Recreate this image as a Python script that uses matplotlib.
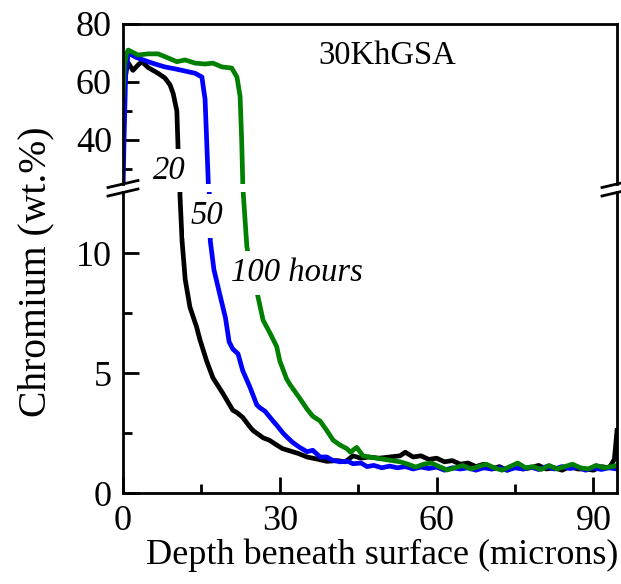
import matplotlib
matplotlib.use("Agg")
import matplotlib.pyplot as plt
import numpy as np
from matplotlib.lines import Line2D

plt.rcParams["font.family"] = ["Liberation Serif", "DejaVu Serif"]
plt.rcParams["font.size"] = 26

# depth (microns) and chromium (wt.%)
x_20h = [0.3, 0.6, 1.0, 1.9, 2.9, 3.6, 4.8, 6.7, 8.0, 9.0, 9.6, 10.3, 10.5, 10.7,
         10.9, 11.3, 11.9, 12.8, 14.1, 14.7, 16.0, 17.2, 19.1, 21.0, 21.8, 22.9,
         24.3, 24.9, 26.8, 28.0, 29.4, 30.5, 32.0, 33.5, 35.2, 37.0, 39.0, 41.0,
         42.5, 44.0, 45.5, 47.0, 49.0, 51.0, 53.0, 54.0, 55.5, 57.0, 58.5, 60.0,
         61.5, 63.0, 64.5, 66.0, 67.5, 69.0, 70.5, 72.0, 73.5, 75.0, 76.5, 78.0,
         79.5, 81.0, 82.5, 84.0, 85.5, 87.0, 88.5, 90.0, 91.5, 93.0, 94.0, 94.5]
cr_20h = [60.0, 64.0, 66.6, 64.0, 65.9, 67.0, 65.0, 63.0, 61.4, 59.0, 56.0, 50.0, 39.0, 25.0,
          12.4, 10.5, 8.9, 7.75, 6.9, 6.4, 5.5, 4.8, 4.15, 3.45, 3.35, 3.15,
          2.75, 2.6, 2.3, 2.2, 2.0, 1.85, 1.75, 1.65, 1.5, 1.42, 1.32, 1.35,
          1.3, 1.55, 1.45, 1.5, 1.45, 1.5, 1.55, 1.7, 1.5, 1.55, 1.4, 1.45,
          1.3, 1.35, 1.2, 1.25, 1.1, 1.2, 1.0, 1.1, 0.95, 1.1, 1.0, 1.05,
          1.15, 1.0, 1.05, 0.95, 1.1, 1.0, 1.0, 0.95, 1.1, 1.05, 1.4, 2.6]

x_50h = [0.0, 0.2, 0.5, 1.0, 2.5, 4.8, 6.5, 8.0, 10.0, 11.3, 13.8, 15.1, 15.3, 15.7,
         16.0, 16.3, 16.5, 16.7, 17.4, 18.6, 19.6, 20.3, 21.0, 22.0, 22.9, 23.7,
         24.3, 25.6, 26.2, 27.2, 28.7, 29.5, 30.6, 31.5, 32.5, 33.8, 35.2, 36.3,
         37.7, 39.0, 40.0, 41.5, 43.0, 44.0, 45.5, 46.7, 48.0, 49.5, 51.0, 52.5,
         54.0, 55.5, 57.0, 58.5, 60.0, 61.5, 63.0, 64.5, 66.0, 67.5, 69.0, 70.5,
         72.0, 73.5, 75.0, 76.5, 78.0, 79.5, 81.0, 82.5, 84.0, 85.5, 87.0, 88.5,
         90.0, 91.5, 93.0, 94.5]
cr_50h = [22.0, 40.0, 62.0, 70.0, 68.5, 67.0, 66.0, 65.2, 64.5, 64.0, 63.0, 61.7, 59.0, 54.0,
          40.0, 26.0, 12.5, 10.5, 9.3, 8.2, 7.3, 6.3, 6.0, 5.8, 5.1, 4.7,
          4.4, 3.67, 3.55, 3.4, 3.0, 2.8, 2.5, 2.3, 2.1, 1.9, 1.72, 1.78,
          1.5, 1.5, 1.37, 1.3, 1.32, 1.22, 1.25, 1.1, 1.15, 1.05, 1.12, 1.05,
          1.1, 1.0, 1.08, 1.02, 1.08, 0.95, 1.05, 1.0, 1.05, 0.95, 1.05, 1.0,
          1.05, 0.95, 1.05, 1.0, 1.08, 0.98, 1.1, 1.0, 1.1, 1.02, 1.08, 0.95,
          1.05, 0.98, 1.05, 1.0]

x_100h = [0.0, 0.3, 0.7, 1.0, 2.9, 4.8, 6.7, 8.6, 10.3, 11.9, 13.8, 15.7, 17.2, 18.9,
          20.8, 21.8, 22.4, 22.7, 22.9, 23.0, 23.7, 24.5, 25.8, 26.8, 28.1, 29.4,
          30.0, 31.3, 32.0, 33.8, 35.2, 36.3, 37.7, 39.0, 40.2, 41.5, 42.8, 43.5,
          44.7, 45.9, 47.0, 48.6, 50.0, 51.5, 53.0, 54.5, 56.0, 57.5, 59.0, 60.5,
          62.0, 63.5, 65.0, 66.5, 68.0, 69.5, 71.0, 72.5, 74.0, 75.5, 77.0, 78.5,
          80.0, 81.5, 83.0, 84.5, 86.0, 87.5, 89.0, 90.5, 92.0, 93.5, 94.5]
cr_100h = [55.0, 66.0, 70.0, 71.0, 69.3, 69.7, 69.7, 68.3, 67.0, 67.6, 66.5, 66.2, 66.5, 65.2,
           64.8, 61.7, 55.0, 40.0, 26.0, 12.5, 10.25, 9.3, 8.2, 7.2, 6.67, 6.1,
           5.5, 4.75, 4.5, 3.95, 3.5, 3.2, 3.0, 2.6, 2.2, 2.0, 1.85, 1.7,
           1.9, 1.55, 1.5, 1.45, 1.4, 1.35, 1.3, 1.2, 1.08, 1.2, 1.25, 1.1,
           0.96, 1.05, 1.15, 1.0, 1.1, 1.2, 1.05, 0.95, 1.1, 1.25, 1.05, 1.1,
           0.98, 1.15, 1.0, 1.1, 1.2, 1.05, 1.0, 1.15, 1.05, 1.1, 1.15]

series = [(x_20h, cr_20h, "black"), (x_50h, cr_50h, "#0000ff"), (x_100h, cr_100h, "#008000")]

W, H = 621, 584
fig = plt.figure(figsize=(W / 100, H / 100), dpi=100)

L, R, T, B = 123, 617, 24, 493
brk_top, brk_bot = 184, 192
ax_top = fig.add_axes([L / W, 1 - brk_top / H, (R - L) / W, (brk_top - T) / H])
ax_bot = fig.add_axes([L / W, 1 - B / H, (R - L) / W, (B - brk_bot) / H])

for ax in (ax_top, ax_bot):
    for xs, ys, c in series:
        ax.plot(xs, ys, color=c, lw=3.4, solid_joinstyle="round")
    ax.set_xlim(0, 94.5)
    for s in ax.spines.values():
        s.set_linewidth(2)
    ax.tick_params(which="both", direction="in", width=2, right=False, top=False)
    ax.tick_params(which="major", length=11.5)
    ax.tick_params(which="minor", length=6.5)
    ax.tick_params(axis="y", pad=8)

ax_top.set_ylim(24.8, 80)
ax_top.set_yticks([40, 60, 80])
ax_top.set_yticks([30, 50, 70], minor=True)
ax_top.spines["bottom"].set_visible(False)
ax_top.tick_params(axis="x", which="both", bottom=False, labelbottom=False)

ax_bot.set_ylim(0, (B - brk_bot) / 24.0)
ax_bot.set_yticks([0, 5, 10])
ax_bot.set_yticks([2.5, 7.5], minor=True)
ax_bot.set_xticks([0, 30, 60, 90])
ax_bot.set_xticks([15, 45, 75], minor=True)
ax_bot.spines["top"].set_visible(False)
ax_bot.tick_params(axis="x", pad=9)

# axis break marks
for sx in (L, R):
    for sy in (brk_top, brk_bot + 0.5):
        fig.add_artist(Line2D([(sx - 15) / W, (sx + 15) / W],
                              [1 - (sy + 3.5) / H, 1 - (sy - 3.5) / H],
                              color="black", lw=2, transform=fig.transFigure))

box = dict(boxstyle="square,pad=0.2", fc="white", ec="none")
lab = dict(style="italic", fontsize=23.5, ha="center", va="center", bbox=box)
ax_top.text(8.9, 29.3, "20", **lab)
ax_bot.text(16.1, 11.54, "50", **lab)
ax_bot.text(33.3, 9.17, "100 hours", **lab)

fig.text(387 / W, 1 - 64 / H, "30KhGSA", fontsize=23.5, ha="center", va="baseline")
fig.text(382 / W, 1 - 564 / H, "Depth beneath surface (microns)", ha="center", va="baseline")
fig.text(36 / W, 1 - 272 / H, "Chromium (wt.%)", fontsize=28.5, rotation=90,
         ha="center", va="center")

fig.savefig("out.png", dpi=100)
